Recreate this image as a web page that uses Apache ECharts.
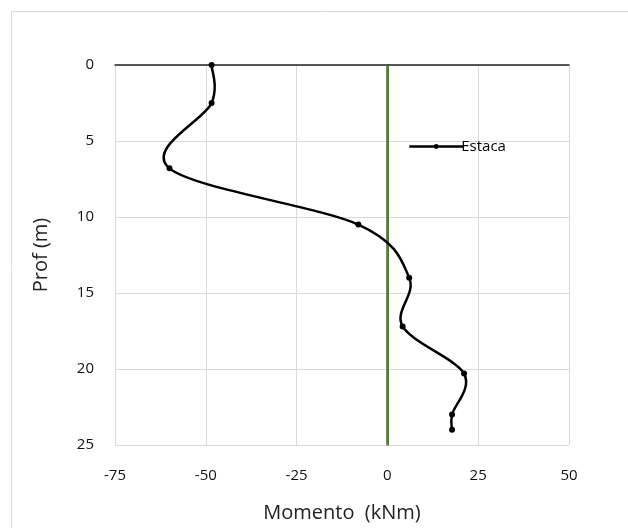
<!DOCTYPE html>
<html>
<head>
<meta charset="utf-8">
<script src="https://cdn.jsdelivr.net/npm/echarts@6/dist/echarts.min.js"></script>
<style>
    html, body { margin: 0; padding: 0; background: #fff; }
    #chart { width: 628px; height: 528px; }
</style>
</head>
<body>
<div id="chart"></div>
<script>
// valores
var momento = [-48.4, -48.4, -60, -8, 6, 4.2, 21.1, 17.8, 17.8];
var prof = [0, 2.5, 6.8, 10.5, 14, 17.2, 20.3, 23, 24];
var xTicks = [-75, 50, 25];//min, max, intervalo
var yTicks = [0, 25, 5];

var estaca = momento.map(function (m, i) { return [m, prof[i]]; });
var linhaZero = [[0, yTicks[0]], [0, yTicks[1]]];

// curva suavizada tipo Excel (Catmull-Rom, 1/6) sobre as coordenadas do eixo
function curvaSuave (params, api) {
    if (params.dataIndex !== 0) return null;
    var pts = estaca.map(function (d) { return api.coord(d); });
    var n = pts.length;
    var d = "M" + pts[0][0] + "," + pts[0][1];
    for (var i = 0; i < n - 1; i++) {
        var p0 = pts[i > 0 ? i - 1 : i], p1 = pts[i], p2 = pts[i + 1], p3 = pts[i + 2 < n ? i + 2 : i + 1];
        var c1x = p1[0] + (p2[0] - p0[0]) / 6, c1y = p1[1] + (p2[1] - p0[1]) / 6;
        var c2x = p2[0] - (p3[0] - p1[0]) / 6, c2y = p2[1] - (p3[1] - p1[1]) / 6;
        d += " C" + c1x + "," + c1y + " " + c2x + "," + c2y + " " + p2[0] + "," + p2[1];
    }
    return {
        type: "path",
        shape: { pathData: d },
        style: { fill: null, stroke: "#000", lineWidth: 2.5 },
        silent: true
    };
}

var fonte = "Open Sans";
var myChart = echarts.init(document.getElementById("chart"));
var option = {
    animation: false,
    textStyle: { fontFamily: fonte },
    graphic: [{
        type: "rect",
        shape: { x: 11.5, y: 11.5, width: 640, height: 540 },
        style: { fill: "none", stroke: "#d9d9d9", lineWidth: 1 },
        silent: true
    }],
    grid: { left: 115, right: 59, top: 65, bottom: 83 },
    legend: {
        data: [{ name: "Estaca", lineStyle: { opacity: 1, color: "#000", width: 2.5 } }],
        left: 403,
        top: 134,
        itemWidth: 54,
        itemHeight: 6,
        textStyle: { fontSize: 15, color: "#000", fontFamily: fonte, padding: [0, 0, 0, -7] }
    },
    xAxis: [{
        type: "value",
        min: xTicks[0], max: xTicks[1], interval: xTicks[2],
        position: "bottom",
        name: "Momento  (kNm)",
        nameLocation: "middle",
        nameGap: 58,
        nameTextStyle: { fontSize: 20, color: "#222" },
        axisLine: { show: false },
        axisTick: { show: false },
        axisLabel: { fontSize: 15, color: "#111", margin: 23 },
        splitLine: { lineStyle: { color: "#d9d9d9", width: 1 } }
    }, {
        type: "value",
        min: xTicks[0], max: xTicks[1], interval: xTicks[2],
        position: "top",
        axisLine: { show: true, lineStyle: { color: "#222", width: 1.5 } },
        axisTick: { show: false },
        axisLabel: { show: false },
        splitLine: { show: false }
    }],
    yAxis: [{
        type: "value",
        inverse: true,
        min: yTicks[0], max: yTicks[1], interval: yTicks[2],
        position: "left",
        name: "Prof (m)",
        nameLocation: "middle",
        nameGap: 64,
        nameTextStyle: { fontSize: 20, color: "#222" },
        axisLine: { show: false },
        axisTick: { show: false },
        axisLabel: { fontSize: 15, color: "#111", margin: 21 },
        splitLine: { lineStyle: { color: "#d9d9d9", width: 1 } }
    }, {
        type: "value",
        inverse: true,
        min: yTicks[0], max: yTicks[1], interval: yTicks[2],
        position: "right",
        axisLine: { show: true, lineStyle: { color: "#222", width: 1.5 } },
        axisTick: { show: false },
        axisLabel: { show: false },
        splitLine: { show: false }
    }],
    series: [{
        name: "zero",
        type: "line",
        data: linhaZero,
        symbol: "none",
        lineStyle: { color: "#548235", width: 2.5 },
        z: 1
    }, {
        name: "curva",
        type: "custom",
        data: estaca,
        renderItem: curvaSuave,
        silent: true,
        z: 2
    }, {
        name: "Estaca",
        type: "line",
        data: estaca,
        symbol: "circle",
        symbolSize: 6,
        itemStyle: { color: "#000" },
        lineStyle: { opacity: 0 },
        z: 3
    }]
};
myChart.setOption(option);
</script>
</body>
</html>
